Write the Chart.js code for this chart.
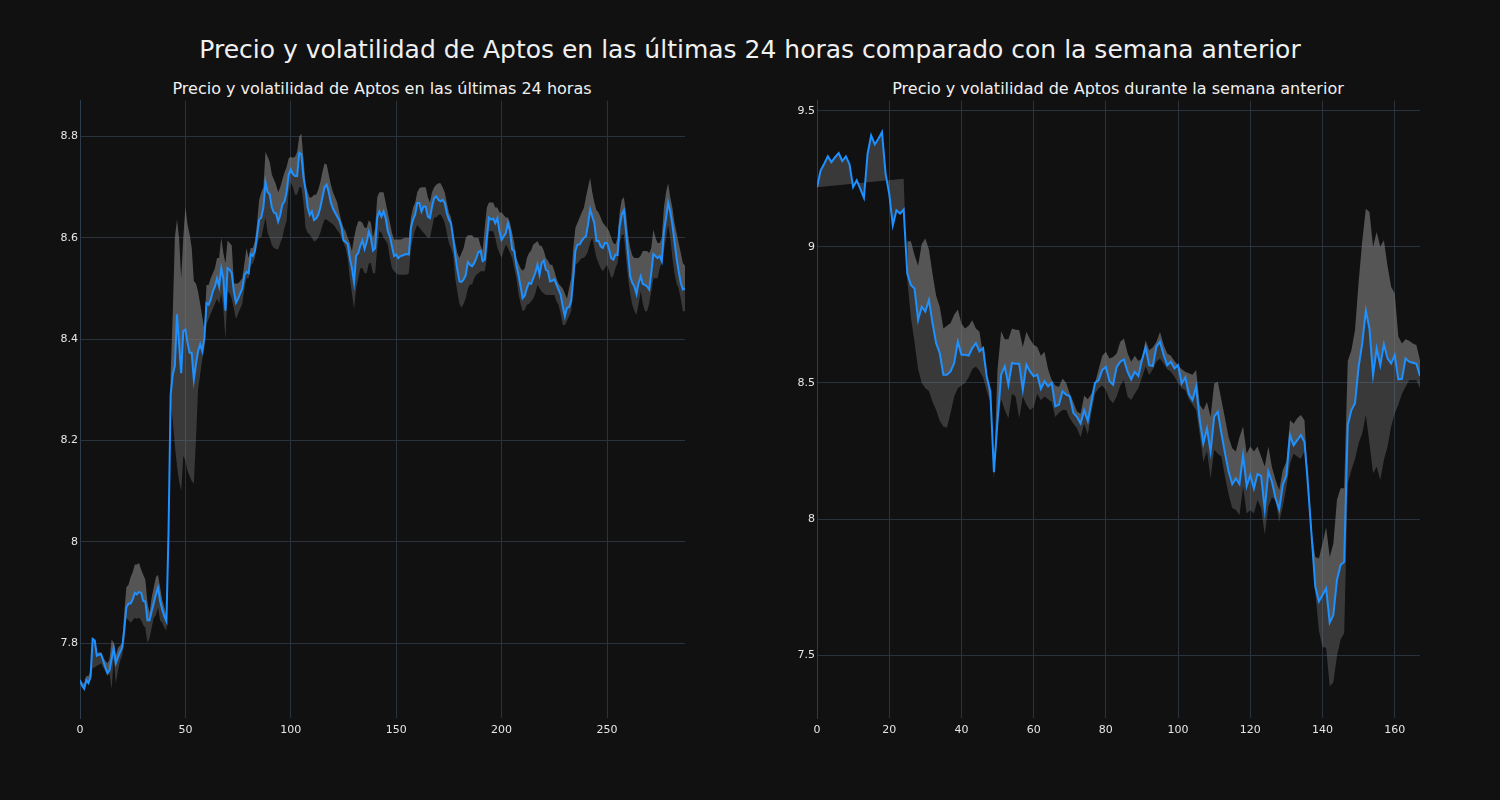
<!DOCTYPE html>
<html>
<head>
<meta charset="utf-8">
<script src="https://cdn.jsdelivr.net/npm/chart.js@4/dist/chart.umd.min.js"></script>
<style>
  body { margin: 0; background: #111111; width: 1500px; height: 800px; overflow: hidden; font-family: 'DejaVu Sans', sans-serif; }
  .t { position: absolute; color: #f0f0f0; white-space: nowrap; transform: translateX(-50%); }
  #main { left: 750px; top: 35px; font-size: 25px; }
  #subA { left: 382px; top: 79px; font-size: 16px; }
  #subB { left: 1118px; top: 79px; font-size: 16px; }
  canvas { position: absolute; top: 92px; }
  #cA { left: 0; }
  #cB { left: 737px; }
</style>
</head>
<body>
<div class="t" id="main">Precio y volatilidad de Aptos en las últimas 24 horas comparado con la semana anterior</div>
<div class="t" id="subA">Precio y volatilidad de Aptos en las últimas 24 horas</div>
<div class="t" id="subB">Precio y volatilidad de Aptos durante la semana anterior</div>
<canvas id="cA" width="700" height="648"></canvas>
<canvas id="cB" width="700" height="648"></canvas>
<script>
// ultimas 24 horas (5 min)
const price24 = [
  7.726, 7.716, 7.710, 7.727, 7.721, 7.733, 7.808, 7.805, 7.775, 7.777,
  7.778, 7.765, 7.752, 7.741, 7.746, 7.769, 7.790, 7.760, 7.772, 7.782,
  7.791, 7.827, 7.870, 7.878, 7.878, 7.886, 7.899, 7.896, 7.901, 7.899,
  7.883, 7.882, 7.845, 7.845, 7.863, 7.879, 7.896, 7.909, 7.883, 7.866,
  7.853, 7.843, 8.020, 8.290, 8.330, 8.347, 8.449, 8.390, 8.333, 8.416,
  8.419, 8.393, 8.373, 8.373, 8.320, 8.350, 8.376, 8.390, 8.376, 8.402,
  8.471, 8.468, 8.478, 8.494, 8.504, 8.520, 8.504, 8.540, 8.520, 8.456,
  8.540, 8.537, 8.530, 8.494, 8.472, 8.480, 8.490, 8.500, 8.527, 8.533,
  8.530, 8.568, 8.564, 8.575, 8.605, 8.636, 8.640, 8.660, 8.710, 8.690,
  8.686, 8.660, 8.650, 8.648, 8.632, 8.645, 8.666, 8.672, 8.690, 8.725,
  8.735, 8.726, 8.722, 8.722, 8.768, 8.765, 8.720, 8.695, 8.660, 8.645,
  8.652, 8.635, 8.638, 8.645, 8.660, 8.680, 8.700, 8.705, 8.690, 8.670,
  8.658, 8.650, 8.642, 8.635, 8.622, 8.595, 8.592, 8.588, 8.560, 8.540,
  8.512, 8.565, 8.570, 8.585, 8.595, 8.578, 8.592, 8.612, 8.600, 8.575,
  8.580, 8.640, 8.652, 8.642, 8.652, 8.639, 8.613, 8.603, 8.583, 8.564,
  8.567, 8.560, 8.564, 8.565, 8.567, 8.568, 8.567, 8.620, 8.636, 8.646,
  8.669, 8.669, 8.652, 8.662, 8.662, 8.642, 8.639, 8.662, 8.678, 8.682,
  8.675, 8.672, 8.675, 8.669, 8.649, 8.636, 8.629, 8.600, 8.567, 8.537,
  8.514, 8.513, 8.518, 8.527, 8.552, 8.547, 8.544, 8.550, 8.560, 8.572,
  8.574, 8.554, 8.557, 8.600, 8.640, 8.636, 8.638, 8.629, 8.639, 8.613,
  8.596, 8.603, 8.609, 8.629, 8.613, 8.577, 8.574, 8.547, 8.527, 8.504,
  8.481, 8.486, 8.501, 8.511, 8.509, 8.520, 8.531, 8.547, 8.527, 8.550,
  8.555, 8.537, 8.534, 8.514, 8.515, 8.518, 8.508, 8.498, 8.488, 8.465,
  8.445, 8.462, 8.463, 8.475, 8.521, 8.574, 8.587, 8.587, 8.594, 8.600,
  8.603, 8.626, 8.656, 8.642, 8.629, 8.594, 8.594, 8.583, 8.580, 8.590,
  8.590, 8.577, 8.560, 8.557, 8.567, 8.566, 8.623, 8.646, 8.654, 8.613,
  8.567, 8.524, 8.511, 8.504, 8.489, 8.511, 8.524, 8.509, 8.507, 8.504,
  8.498, 8.531, 8.568, 8.564, 8.560, 8.564, 8.554, 8.613, 8.639, 8.669,
  8.652, 8.626, 8.594, 8.560, 8.534, 8.511, 8.498, 8.500
];
const upper24 = [
  7.730, 7.722, 7.720, 7.735, 7.735, 7.745, 7.810, 7.808, 7.780, 7.782,
  7.782, 7.772, 7.765, 7.760, 7.768, 7.807, 7.800, 7.775, 7.790, 7.795,
  7.800, 7.860, 7.910, 7.915, 7.930, 7.940, 7.955, 7.955, 7.958, 7.945,
  7.935, 7.925, 7.880, 7.860, 7.890, 7.910, 7.930, 7.935, 7.910, 7.885,
  7.870, 7.855, 8.060, 8.330, 8.450, 8.600, 8.636, 8.600, 8.520, 8.600,
  8.662, 8.627, 8.607, 8.580, 8.515, 8.510, 8.494, 8.470, 8.444, 8.420,
  8.507, 8.507, 8.520, 8.530, 8.540, 8.560, 8.560, 8.600, 8.570, 8.550,
  8.595, 8.590, 8.585, 8.510, 8.510, 8.510, 8.515, 8.520, 8.550, 8.580,
  8.560, 8.580, 8.580, 8.594, 8.630, 8.675, 8.690, 8.700, 8.770, 8.760,
  8.750, 8.725, 8.715, 8.705, 8.690, 8.700, 8.715, 8.729, 8.740, 8.757,
  8.760, 8.758, 8.760, 8.770, 8.800, 8.806, 8.757, 8.705, 8.690, 8.679,
  8.680, 8.685, 8.685, 8.695, 8.710, 8.730, 8.747, 8.745, 8.725, 8.705,
  8.690, 8.680, 8.670, 8.650, 8.633, 8.620, 8.613, 8.600, 8.590, 8.574,
  8.600, 8.620, 8.633, 8.633, 8.630, 8.620, 8.620, 8.635, 8.630, 8.600,
  8.620, 8.680, 8.690, 8.690, 8.690, 8.670, 8.650, 8.630, 8.610, 8.597,
  8.597, 8.597, 8.597, 8.598, 8.600, 8.600, 8.600, 8.640, 8.660, 8.670,
  8.690, 8.698, 8.700, 8.700, 8.700, 8.680, 8.670, 8.690, 8.700, 8.705,
  8.708, 8.708, 8.700, 8.690, 8.670, 8.650, 8.640, 8.610, 8.590, 8.570,
  8.560, 8.570, 8.580, 8.600, 8.605, 8.605, 8.605, 8.600, 8.600, 8.600,
  8.585, 8.575, 8.620, 8.660, 8.670, 8.670, 8.670, 8.660, 8.660, 8.650,
  8.650, 8.645, 8.640, 8.640, 8.630, 8.610, 8.590, 8.560, 8.550, 8.540,
  8.535, 8.540, 8.560, 8.570, 8.575, 8.587, 8.590, 8.594, 8.585, 8.584,
  8.575, 8.560, 8.555, 8.547, 8.547, 8.535, 8.520, 8.510, 8.505, 8.500,
  8.490, 8.480, 8.500, 8.520, 8.580, 8.620, 8.630, 8.640, 8.650, 8.659,
  8.680, 8.700, 8.718, 8.690, 8.670, 8.655, 8.650, 8.640, 8.630, 8.625,
  8.620, 8.613, 8.600, 8.590, 8.587, 8.600, 8.650, 8.675, 8.680, 8.650,
  8.606, 8.580, 8.565, 8.560, 8.560, 8.560, 8.565, 8.574, 8.574, 8.574,
  8.570, 8.580, 8.616, 8.600, 8.590, 8.590, 8.600, 8.660, 8.690, 8.708,
  8.680, 8.660, 8.630, 8.610, 8.590, 8.570, 8.550, 8.545
];
const lower24 = [
  7.722, 7.712, 7.706, 7.722, 7.718, 7.730, 7.750, 7.752, 7.755, 7.757,
  7.760, 7.752, 7.745, 7.735, 7.740, 7.709, 7.770, 7.720, 7.745, 7.765,
  7.775, 7.800, 7.850, 7.845, 7.840, 7.845, 7.850, 7.848, 7.850, 7.845,
  7.835, 7.830, 7.800, 7.810, 7.830, 7.850, 7.855, 7.870, 7.845, 7.840,
  7.830, 7.825, 7.990, 8.270, 8.240, 8.190, 8.150, 8.120, 8.100, 8.170,
  8.160, 8.140, 8.130, 8.120, 8.115, 8.200, 8.300, 8.330, 8.360, 8.380,
  8.430, 8.440, 8.450, 8.460, 8.470, 8.480, 8.470, 8.490, 8.460, 8.400,
  8.494, 8.490, 8.480, 8.460, 8.440, 8.450, 8.460, 8.470, 8.500, 8.520,
  8.520, 8.546, 8.550, 8.560, 8.586, 8.600, 8.600, 8.620, 8.640, 8.610,
  8.600, 8.586, 8.580, 8.578, 8.577, 8.590, 8.600, 8.620, 8.633, 8.690,
  8.710, 8.700, 8.685, 8.685, 8.700, 8.700, 8.670, 8.620, 8.610, 8.606,
  8.600, 8.593, 8.595, 8.600, 8.610, 8.625, 8.636, 8.636, 8.633, 8.630,
  8.627, 8.622, 8.615, 8.610, 8.600, 8.590, 8.580, 8.560, 8.520, 8.490,
  8.460, 8.500, 8.520, 8.540, 8.540, 8.530, 8.530, 8.550, 8.550, 8.530,
  8.530, 8.580, 8.613, 8.610, 8.600, 8.595, 8.587, 8.560, 8.540, 8.534,
  8.530, 8.527, 8.527, 8.527, 8.527, 8.527, 8.530, 8.580, 8.600, 8.615,
  8.626, 8.620, 8.615, 8.610, 8.605, 8.600, 8.600, 8.620, 8.640, 8.640,
  8.645, 8.646, 8.640, 8.630, 8.610, 8.590, 8.580, 8.567, 8.520, 8.494,
  8.470, 8.462, 8.470, 8.481, 8.500, 8.508, 8.508, 8.520, 8.527, 8.530,
  8.534, 8.534, 8.534, 8.560, 8.613, 8.613, 8.613, 8.600, 8.580, 8.570,
  8.560, 8.575, 8.587, 8.580, 8.570, 8.560, 8.540, 8.520, 8.490, 8.470,
  8.455, 8.458, 8.468, 8.470, 8.475, 8.480, 8.490, 8.507, 8.500, 8.494,
  8.490, 8.487, 8.487, 8.487, 8.487, 8.487, 8.475, 8.468, 8.450, 8.428,
  8.428, 8.436, 8.445, 8.455, 8.500, 8.547, 8.550, 8.555, 8.560, 8.560,
  8.565, 8.574, 8.590, 8.600, 8.580, 8.560, 8.550, 8.540, 8.534, 8.540,
  8.547, 8.535, 8.520, 8.525, 8.540, 8.550, 8.590, 8.606, 8.606, 8.560,
  8.520, 8.490, 8.468, 8.455, 8.448, 8.470, 8.494, 8.470, 8.455, 8.455,
  8.470, 8.494, 8.520, 8.520, 8.520, 8.540, 8.550, 8.574, 8.600, 8.626,
  8.600, 8.560, 8.530, 8.510, 8.500, 8.480, 8.455, 8.455
];

// semana anterior (1 h)
const priceWeek = [
  9.219, 9.280, 9.305, 9.332, 9.311, 9.329, 9.344, 9.315, 9.332, 9.303,
  9.219, 9.244, 9.213, 9.180, 9.341, 9.409, 9.376, 9.397, 9.421, 9.268,
  9.195, 9.079, 9.134, 9.122, 9.137, 8.902, 8.860, 8.847, 8.731, 8.780,
  8.762, 8.805, 8.719, 8.646, 8.609, 8.530, 8.530, 8.542, 8.573, 8.652,
  8.603, 8.603, 8.600, 8.628, 8.646, 8.616, 8.628, 8.524, 8.469, 8.172,
  8.360, 8.530, 8.561, 8.493, 8.573, 8.570, 8.570, 8.475, 8.567, 8.542,
  8.524, 8.530, 8.478, 8.506, 8.487, 8.500, 8.414, 8.420, 8.469, 8.457,
  8.451, 8.390, 8.375, 8.351, 8.400, 8.360, 8.430, 8.500, 8.510, 8.547,
  8.559, 8.506, 8.493, 8.559, 8.578, 8.586, 8.541, 8.513, 8.541, 8.525,
  8.584, 8.630, 8.565, 8.562, 8.633, 8.651, 8.603, 8.565, 8.578, 8.553,
  8.565, 8.498, 8.520, 8.459, 8.437, 8.486, 8.363, 8.278, 8.333, 8.247,
  8.376, 8.394, 8.314, 8.241, 8.174, 8.128, 8.149, 8.128, 8.235, 8.121,
  8.161, 8.112, 8.165, 8.158, 8.035, 8.174, 8.137, 8.076, 8.035, 8.125,
  8.161, 8.308, 8.271, 8.290, 8.308, 8.284, 8.118, 7.935, 7.752, 7.697,
  7.721, 7.745, 7.619, 7.647, 7.776, 7.831, 7.843, 8.345, 8.400, 8.425,
  8.559, 8.645, 8.765, 8.700, 8.529, 8.627, 8.565, 8.642, 8.590, 8.571,
  8.602, 8.513, 8.515, 8.590, 8.578, 8.574, 8.570, 8.525
];
const upperWeek = [
  null, null, null, null, null, null, null, null, null, null,
  null, null, null, null, null, null, null, null, null, null,
  null, null, null, null, null, 9.020, 9.020, 8.970, 8.930, 9.010,
  9.030, 8.990, 8.900, 8.820, 8.780, 8.700, 8.710, 8.720, 8.750, 8.770,
  8.718, 8.700, 8.710, 8.730, 8.700, 8.688, 8.600, 8.510, 8.437, 8.172,
  8.550, 8.690, 8.660, 8.660, 8.700, 8.695, 8.694, 8.632, 8.688, 8.660,
  8.640, 8.632, 8.600, 8.614, 8.550, 8.510, 8.490, 8.485, 8.516, 8.500,
  8.460, 8.430, 8.395, 8.387, 8.454, 8.440, 8.460, 8.500, 8.550, 8.600,
  8.614, 8.590, 8.595, 8.608, 8.651, 8.663, 8.610, 8.578, 8.600, 8.580,
  8.590, 8.657, 8.620, 8.630, 8.651, 8.687, 8.640, 8.608, 8.600, 8.580,
  8.565, 8.550, 8.541, 8.535, 8.530, 8.547, 8.420, 8.400, 8.430, 8.375,
  8.498, 8.504, 8.437, 8.370, 8.300, 8.260, 8.248, 8.300, 8.340, 8.241,
  8.266, 8.248, 8.266, 8.230, 8.193, 8.266, 8.190, 8.143, 8.106, 8.180,
  8.210, 8.363, 8.350, 8.370, 8.382, 8.363, 8.130, 7.950, 7.860, 7.855,
  7.910, 7.970, 7.860, 7.910, 8.070, 8.113, 8.113, 8.580, 8.620, 8.694,
  8.870, 9.020, 9.140, 9.128, 9.000, 9.054, 9.000, 9.024, 8.930, 8.853,
  8.828, 8.670, 8.645, 8.660, 8.655, 8.645, 8.639, 8.583
];
const lowerWeek = [
  9.219, null, null, null, null, null, null, null, null, null,
  null, null, null, null, null, null, null, null, null, null,
  null, null, null, null, 9.250, 8.880, 8.740, 8.650, 8.550, 8.500,
  8.480, 8.470, 8.430, 8.400, 8.360, 8.340, 8.335, 8.390, 8.450, 8.480,
  8.490, 8.500, 8.520, 8.550, 8.560, 8.545, 8.520, 8.470, 8.430, 8.143,
  8.350, 8.440, 8.400, 8.370, 8.460, 8.450, 8.370, 8.450, 8.420, 8.400,
  8.410, 8.460, 8.436, 8.450, 8.440, 8.430, 8.375, 8.390, 8.400, 8.400,
  8.370, 8.350, 8.333, 8.300, 8.350, 8.310, 8.390, 8.460, 8.480, 8.490,
  8.474, 8.440, 8.425, 8.450, 8.490, 8.511, 8.450, 8.437, 8.460, 8.480,
  8.520, 8.560, 8.529, 8.550, 8.578, 8.590, 8.570, 8.550, 8.541, 8.523,
  8.500, 8.480, 8.474, 8.440, 8.420, 8.400, 8.310, 8.210, 8.250, 8.150,
  8.254, 8.240, 8.230, 8.155, 8.090, 8.040, 8.033, 8.015, 8.118, 8.020,
  8.033, 8.020, 8.070, 8.040, 7.942, 8.045, 8.080, 8.070, 7.990, 8.045,
  8.118, 8.204, 8.240, 8.230, 8.220, 8.250, 8.190, 7.970, 7.730, 7.590,
  7.530, 7.527, 7.385, 7.400, 7.496, 7.557, 7.580, 8.130, 8.180, 8.220,
  8.278, 8.314, 8.382, 8.278, 8.168, 8.192, 8.143, 8.217, 8.265, 8.340,
  8.388, 8.420, 8.460, 8.486, 8.510, 8.510, 8.510, 8.480
];

const xTicks24 = [0, 50, 100, 150, 200, 250];
const yTicks24 = [7.8, 8, 8.2, 8.4, 8.6, 8.8];
const xTicksWeek = [0, 20, 40, 60, 80, 100, 120, 140, 160];
const yTicksWeek = [7.5, 8, 8.5, 9, 9.5];

const gridColor = '#29323d';
const tickFont = { family: 'DejaVu Sans', size: 11 };

const pts = arr => arr.map((v, i) => ({ x: i, y: v }));

const makeChart = (id, price, upper, lower, xTicks, yTicks, xMax, yMin, yMax, padRight) => {
    const ctx = document.getElementById(id);
    return new Chart(ctx, {
        type: 'line',
        data: {
            datasets: [
                {
                    data: pts(price),
                    borderColor: '#1e90ff',
                    borderWidth: 2,
                    pointRadius: 0,
                    fill: false,
                    tension: 0
                },
                {
                    data: pts(upper),
                    borderWidth: 0,
                    pointRadius: 0,
                    backgroundColor: 'rgba(128,128,128,0.62)',
                    fill: '-1'
                },
                {
                    data: pts(lower),
                    borderWidth: 0,
                    pointRadius: 0,
                    spanGaps: true,
                    backgroundColor: 'rgba(128,128,128,0.37)',
                    fill: '-2'
                }
            ]
        },
        options: {
            responsive: false,
            animation: false,
            devicePixelRatio: 1,
            layout: { padding: { top: 5, right: padRight, left: 0, bottom: 0 } },
            plugins: { legend: { display: false }, tooltip: { enabled: false } },
            scales: {
                x: {
                    type: 'linear',
                    min: 0,
                    max: xMax,
                    afterFit: s => { s.height = 22; },
                    afterBuildTicks: s => { s.ticks = xTicks.map(v => ({ value: v })); },
                    grid: { color: gridColor, drawTicks: false },
                    border: { display: false },
                    ticks: { color: '#e6e6e6', font: tickFont, padding: 6, maxRotation: 0, callback: v => String(v) }
                },
                y: {
                    min: yMin,
                    max: yMax,
                    afterFit: s => { s.width = 80; },
                    afterBuildTicks: s => { s.ticks = yTicks.map(v => ({ value: v })); },
                    grid: { color: gridColor, drawTicks: false },
                    border: { display: true, color: '#2e3d4d', width: 1 },
                    ticks: { color: '#e6e6e6', font: tickFont, padding: 2, callback: v => String(v) }
                }
            }
        }
    });
}

makeChart('cA', price24, upper24, lower24, xTicks24, yTicks24, 287, 7.652, 8.871, 15);
makeChart('cB', priceWeek, upperWeek, lowerWeek, xTicksWeek, yTicksWeek, 167, 7.269, 9.537, 17);
</script>
</body>
</html>
